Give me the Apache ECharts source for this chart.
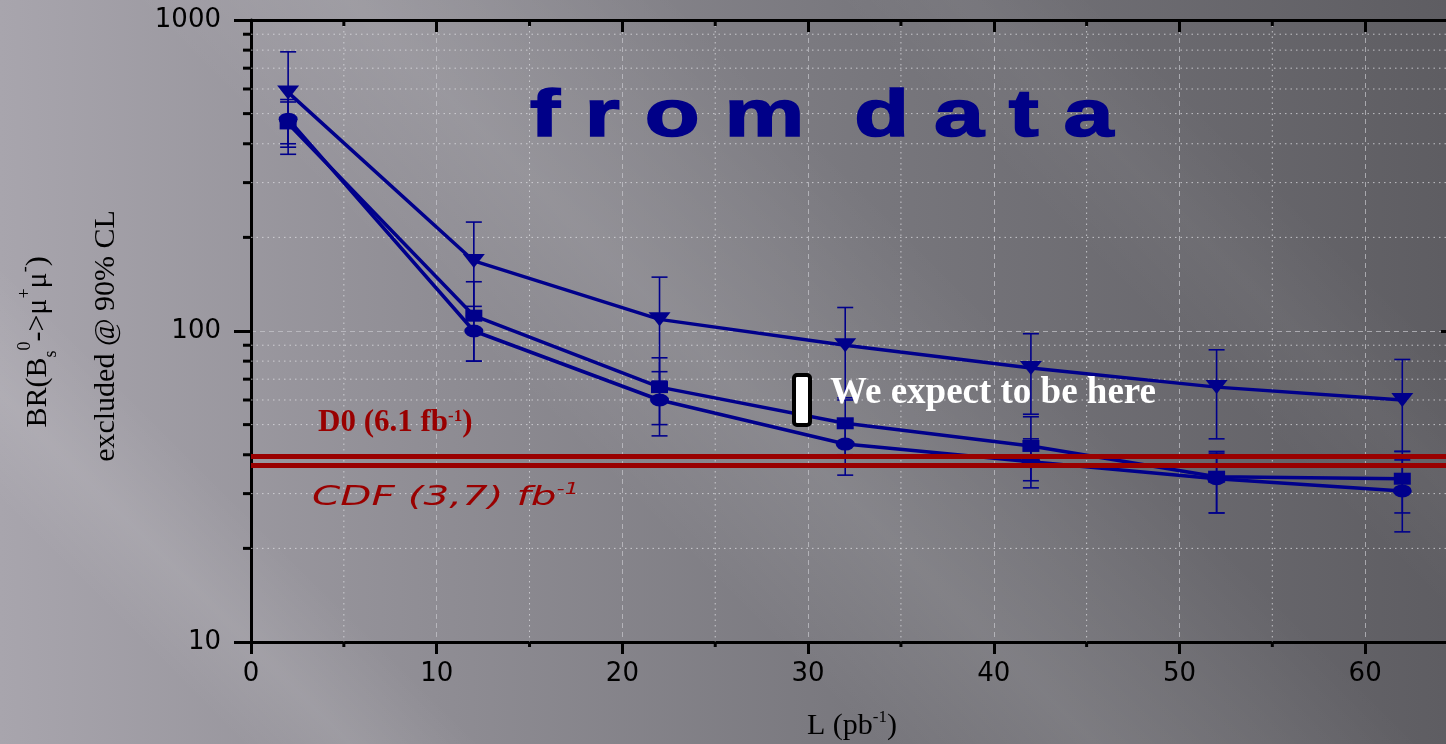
<!DOCTYPE html>
<html>
<head>
<meta charset="utf-8">
<script src="https://cdn.jsdelivr.net/npm/echarts@6/dist/echarts.min.js"></script>
<style>
  html, body { margin: 0; padding: 0; overflow: hidden; }
  #chart {
    width: 1446px; height: 744px;
    background:
      linear-gradient(45deg, rgba(255,255,255,0) 11%, rgba(255,255,255,0.09) 16%, rgba(255,255,255,0) 22%,
                             rgba(0,0,0,0) 40%, rgba(255,255,255,0.10) 50%, rgba(255,255,255,0.05) 58%, rgba(255,255,255,0) 65%,
                             rgba(0,0,0,0) 72%, rgba(255,255,255,0.04) 78%, rgba(0,0,0,0) 84%),
      linear-gradient(90deg, #a8a5ad 0%, #8f8d94 30%, #78777d 60%, #5e5d62 100%);
  }
</style>
</head>
<body>
<div id="chart"></div>
<script>
// Integrated luminosity (pb^-1) of each projection
const luminosity = [2, 12, 22, 32, 42, 52, 62];

// Expected 90% CL exclusion on BR(Bs -> mu mu), three selections
const triangleLimit = [585, 168, 109, 90, 76, 66, 60];
const triangleHigh  = [790, 224, 149, 119, 98, 87, 81];
const triangleLow   = [370, 112, 69, 61, 54, 45, 41];

const squareLimit = [465, 112, 66, 50.5, 42.7, 34, 33.5];
const squareHigh  = [545, 144, 82, 60, 53, 41, 41];
const squareLow   = [390, 80, 50, 40, 33, 26, 26];

const circleLimit = [480, 100, 60, 43.3, 38, 33.5, 30.6];
const circleHigh  = [555, 120, 74, 52, 45, 40.5, 38.5];
const circleLow   = [400, 80, 46, 34.4, 31.3, 26, 22.6];

// Published Tevatron limits (same units)
const d0Limit = 39.7;
const cdfLimit = 37.1;

// Minor grid positions
const xMinorTicks = [5, 15, 25, 35, 45, 55, 65];
const yMinorTicks = [20, 30, 40, 50, 60, 70, 80, 90, 200, 300, 400, 500, 600, 700, 800, 900];

const NAVY = '#00008b';
const DARKRED = '#990000';

const chart = echarts.init(document.getElementById('chart'), null, { renderer: 'canvas' });

function pairs(ys) { return luminosity.map((x, i) => [x, ys[i]]); }
function bars(lo, hi) { return luminosity.map((x, i) => [x, lo[i], hi[i]]); }

function errorBarItem(params, api) {
  const x = api.value(0);
  const lo = api.coord([x, api.value(1)]);
  const hi = api.coord([x, api.value(2)]);
  const half = 8;
  const st = { stroke: NAVY, lineWidth: 1.6 };
  return {
    type: 'group',
    children: [
      { type: 'line', shape: { x1: lo[0], y1: lo[1], x2: hi[0], y2: hi[1] }, style: st },
      { type: 'line', shape: { x1: lo[0] - half, y1: lo[1], x2: lo[0] + half, y2: lo[1] }, style: st },
      { type: 'line', shape: { x1: hi[0] - half, y1: hi[1], x2: hi[0] + half, y2: hi[1] }, style: st }
    ]
  };
}

const minorStyle = { stroke: 'rgba(225,225,230,0.75)', lineWidth: 1, lineDash: [1.5, 4] };

function xMinorItem(params, api) {
  const x = api.value(0);
  const top = api.coord([x, 1000]);
  const bot = api.coord([x, 10]);
  return {
    type: 'group',
    children: [
      { type: 'line', shape: { x1: top[0], y1: top[1], x2: bot[0], y2: bot[1] }, style: minorStyle },
      { type: 'line', shape: { x1: bot[0], y1: bot[1], x2: bot[0], y2: bot[1] + 5 }, style: { stroke: '#000', lineWidth: 3 } },
      { type: 'line', shape: { x1: top[0], y1: top[1], x2: top[0], y2: top[1] + 6 }, style: { stroke: '#000', lineWidth: 3 } }
    ]
  };
}

function yMinorItem(params, api) {
  const y = api.value(1);
  const left = api.coord([0, y]);
  const right = api.coord([65, y]);
  return {
    type: 'group',
    children: [
      { type: 'line', shape: { x1: left[0], y1: left[1], x2: right[0], y2: right[1] }, style: minorStyle },
      { type: 'line', shape: { x1: left[0] - 8, y1: left[1], x2: left[0], y2: left[1] }, style: { stroke: '#000', lineWidth: 3 } }
    ]
  };
}

const tickFont = { color: '#000', fontSize: 26, fontFamily: '"DejaVu Sans"' };
const majorSplit = { show: true, lineStyle: { color: 'rgba(200,200,205,0.7)', width: 1, type: [5, 4] } };

const option = {
  backgroundColor: 'transparent',
  animation: false,
  grid: { left: 251, width: 1207, top: 20, bottom: 102, containLabel: false, outerBoundsMode: 'none' },
  xAxis: [
    {
      type: 'value', position: 'bottom', min: 0, max: 65, interval: 10,
      axisLine: { show: true, onZero: false, lineStyle: { color: '#000', width: 3 } },
      axisTick: { show: true, inside: false, length: 12, lineStyle: { color: '#000', width: 3 } },
      axisLabel: { ...tickFont, margin: 19, showMaxLabel: false },
      splitLine: majorSplit
    },
    {
      type: 'value', position: 'top', min: 0, max: 65, interval: 10,
      axisLine: { show: true, onZero: false, lineStyle: { color: '#000', width: 3 } },
      axisTick: { show: true, inside: true, length: 12, lineStyle: { color: '#000', width: 3 } },
      axisLabel: { show: false },
      splitLine: { show: false }
    }
  ],
  yAxis: [
    {
      type: 'log', logBase: 10, min: 10, max: 1000, position: 'left',
      axisLine: { show: true, onZero: false, lineStyle: { color: '#000', width: 3 } },
      axisTick: { show: true, inside: false, length: 17, lineStyle: { color: '#000', width: 3 } },
      axisLabel: { ...tickFont, margin: 30, formatter: v => String(Math.round(v)) },
      splitLine: majorSplit
    },
    {
      type: 'log', logBase: 10, min: 10, max: 1000, position: 'right',
      axisLine: { show: true, onZero: false, lineStyle: { color: '#000', width: 3 } },
      axisTick: { show: true, inside: true, length: 17, lineStyle: { color: '#000', width: 3 } },
      axisLabel: { show: false },
      splitLine: { show: false }
    }
  ],
  series: [
    {
      type: 'custom', name: 'x minor grid', silent: true, z: 1, clip: false,
      renderItem: xMinorItem, data: xMinorTicks.map(v => [v, 10])
    },
    {
      type: 'custom', name: 'y minor grid', silent: true, z: 1, clip: false,
      renderItem: yMinorItem, data: yMinorTicks.map(v => [0, v])
    },
    {
      type: 'custom', name: 'triangle errors', silent: true, z: 3,
      renderItem: errorBarItem, encode: { x: 0, y: [1, 2] }, data: bars(triangleLow, triangleHigh)
    },
    {
      type: 'custom', name: 'square errors', silent: true, z: 3,
      renderItem: errorBarItem, encode: { x: 0, y: [1, 2] }, data: bars(squareLow, squareHigh)
    },
    {
      type: 'custom', name: 'circle errors', silent: true, z: 3,
      renderItem: errorBarItem, encode: { x: 0, y: [1, 2] }, data: bars(circleLow, circleHigh)
    },
    {
      type: 'line', name: 'triangle', z: 4, data: pairs(triangleLimit),
      symbol: 'triangle', symbolRotate: 180, symbolSize: [22, 14],
      lineStyle: { color: NAVY, width: 3.5 }, itemStyle: { color: NAVY }
    },
    {
      type: 'line', name: 'square', z: 4, data: pairs(squareLimit),
      symbol: 'rect', symbolSize: [17, 12],
      lineStyle: { color: NAVY, width: 3.5 }, itemStyle: { color: NAVY }
    },
    {
      type: 'line', name: 'circle', z: 4, data: pairs(circleLimit),
      symbol: 'circle', symbolSize: [19, 13],
      lineStyle: { color: NAVY, width: 3.5 }, itemStyle: { color: NAVY },
      markLine: {
        silent: true, symbol: 'none', label: { show: false },
        lineStyle: { color: DARKRED, width: 5, type: 'solid' },
        data: [{ yAxis: d0Limit }, { yAxis: cdfLimit }]
      }
    }
  ],
  graphic: [
    {
      type: 'text', x: 530, y: 118, scaleX: 1.36, z: 10,
      style: { text: 'f r o m  d a t a', font: 'bold 66px "Liberation Sans"', fill: '#000088',
               stroke: '#000088', lineWidth: 1.6, verticalAlign: 'middle' }
    },
    {
      type: 'rect', z: 10, shape: { x: 794, y: 375, width: 16, height: 50, r: 3 },
      style: { fill: '#ffffff', stroke: '#000000', lineWidth: 4 }
    },
    {
      type: 'text', x: 830, y: 393, z: 10,
      style: { text: 'We expect to be here', font: 'bold 37px "Liberation Serif"', fill: '#ffffff', verticalAlign: 'middle' }
    },
    {
      type: 'text', x: 318, y: 423, z: 10,
      style: {
        text: '{a|D0 (6.1 fb}{s|-1}{a|)}', verticalAlign: 'middle',
        rich: {
          a: { fontFamily: '"Liberation Serif"', fontWeight: 'bold', fontSize: 31, lineHeight: 30, fill: DARKRED },
          s: { fontFamily: '"Liberation Serif"', fontWeight: 'bold', fontSize: 17, lineHeight: 17, fill: DARKRED, verticalAlign: 'top' }
        }
      }
    },
    {
      type: 'text', x: 312, y: 498, scaleX: 1.5, z: 10,
      style: {
        text: '{a|CDF (3,7) fb}{s|-1}', verticalAlign: 'middle',
        rich: {
          a: { fontFamily: '"DejaVu Sans"', fontStyle: 'italic', fontSize: 27, lineHeight: 30, fill: DARKRED },
          s: { fontFamily: '"DejaVu Sans"', fontStyle: 'italic', fontSize: 15, lineHeight: 15, fill: DARKRED, verticalAlign: 'top' }
        }
      }
    },
    {
      type: 'text', x: 38, y: 342, rotation: Math.PI / 2, z: 10,
      style: {
        text: '{a|BR(B}{b|s}{c|0}{a|->μ}{c|+}{a|μ}{c|-}{a|)}', align: 'center', verticalAlign: 'middle',
        rich: {
          a: { fontFamily: '"Liberation Serif"', fontSize: 30, lineHeight: 44, fill: '#000' },
          b: { fontFamily: '"Liberation Serif"', fontSize: 18, lineHeight: 18, fill: '#000', verticalAlign: 'bottom' },
          c: { fontFamily: '"Liberation Serif"', fontSize: 18, lineHeight: 18, fill: '#000', verticalAlign: 'top' }
        }
      }
    },
    {
      type: 'text', x: 106, y: 336, rotation: Math.PI / 2, z: 10,
      style: { text: 'excluded @ 90% CL', font: '30px "Liberation Serif"', fill: '#000', align: 'center', verticalAlign: 'middle' }
    },
    {
      type: 'text', x: 852, y: 726, z: 10,
      style: {
        text: '{a|L (pb}{s|-1}{a|)}', align: 'center', verticalAlign: 'middle',
        rich: {
          a: { fontFamily: '"Liberation Serif"', fontSize: 30, lineHeight: 34, fill: '#000' },
          s: { fontFamily: '"Liberation Serif"', fontSize: 17, lineHeight: 17, fill: '#000', verticalAlign: 'top' }
        }
      }
    }
  ]
};

chart.setOption(option);
</script>
</body>
</html>
